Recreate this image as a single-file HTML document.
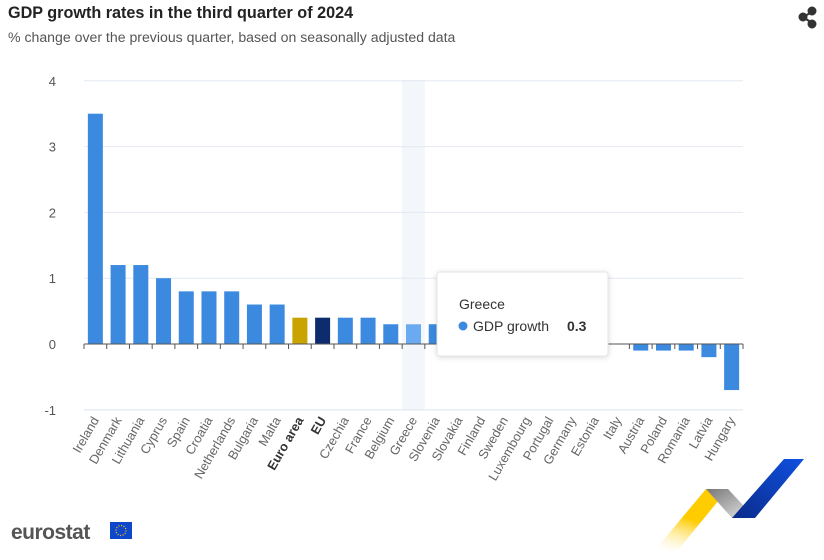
<!DOCTYPE html>
<html><head><meta charset="utf-8"><style>
body{margin:0;background:#fff;font-family:"Liberation Sans",sans-serif;}
#wrap{position:relative;width:824px;height:560px;overflow:hidden;}
</style></head><body>
<div id="wrap">
<svg id="chart" width="824" height="560">
<defs>
<linearGradient id="gy" x1="0" y1="1" x2="0.4" y2="0"><stop offset="0" stop-color="#fff" stop-opacity="0.2"/><stop offset="0.6" stop-color="#ffcc00"/></linearGradient>
<linearGradient id="gg" x1="0" y1="0" x2="1" y2="1"><stop offset="0" stop-color="#777"/><stop offset="1" stop-color="#e8e8e8"/></linearGradient>
<linearGradient id="gb" x1="0" y1="1" x2="1" y2="0"><stop offset="0" stop-color="#0a2c8a"/><stop offset="1" stop-color="#1050e0"/></linearGradient>
</defs>
<text x="8" y="18" font-size="16.2" font-weight="bold" fill="#222">GDP growth rates in the third quarter of 2024</text>
<text x="8" y="42" font-size="14.1" fill="#555">% change over the previous quarter, based on seasonally adjusted data</text>
<g fill="#333" stroke="#333" stroke-width="2">
<line x1="803" y1="17" x2="812" y2="12"/><line x1="803" y1="17" x2="812" y2="23"/>
<circle cx="803" cy="17" r="3.5"/><circle cx="812" cy="11" r="3.5"/><circle cx="812" cy="24" r="3.5"/>
</g>
<g id="grid"></g><g id="bars"></g><g id="xlabels"></g>
<g>
<rect x="437" y="272" width="171" height="84" rx="3" fill="#fff" stroke="#e6e6e6" filter="drop-shadow(0 1px 3px rgba(0,0,0,0.15))"/>
<text x="459" y="309" font-size="14" fill="#333">Greece</text>
<circle cx="463" cy="326" r="4.5" fill="#3b8ae0"/>
<text x="473" y="331" font-size="14" fill="#333">GDP growth</text>
<text x="567" y="331" font-size="14" font-weight="bold" fill="#333">0.3</text>
</g>
<g>
<text x="11" y="539" font-size="21" font-weight="bold" fill="#555" letter-spacing="-0.5">eurostat</text>
<rect x="110" y="522" width="22" height="17" fill="#0e47cb"/>
<circle cx="121" cy="530.5" r="5" fill="none" stroke="#ffcc00" stroke-width="1.3" stroke-dasharray="1 1.6"/>
</g>
<g>
<polygon points="655,550 706,489 728,489 678,550" fill="url(#gy)"/>
<polygon points="706,489 728,489 755,518 732,518" fill="url(#gg)"/>
<polygon points="732,518 784,459 804,459 755,518" fill="url(#gb)"/>
</g>
</svg>
</div>
<script>
const categories=["Ireland","Denmark","Lithuania","Cyprus","Spain","Croatia","Netherlands","Bulgaria","Malta","Euro area","EU","Czechia","France","Belgium","Greece","Slovenia","Slovakia","Finland","Sweden","Luxembourg","Portugal","Germany","Estonia","Italy","Austria","Poland","Romania","Latvia","Hungary"];
const values=[3.5,1.2,1.2,1.0,0.8,0.8,0.8,0.6,0.6,0.4,0.4,0.4,0.4,0.3,0.3,0.3,0.3,0.3,0.3,0.2,0.2,0.2,0.1,0.0,-0.1,-0.1,-0.1,-0.2,-0.7];
const yTicks=[4,3,2,1,0,-1];
const NS="http://www.w3.org/2000/svg";
const x0=84,x1=743,bw=(x1-x0)/categories.length;
const y=v=>344-v*65.8;
const xc=i=>x0+bw*(i+0.5);
function mk(t,a,p){const e=document.createElementNS(NS,t);for(const k in a)e.setAttribute(k,a[k]);p.appendChild(e);return e;}
const grid=document.getElementById('grid'),bars=document.getElementById('bars'),xl=document.getElementById('xlabels');
const hi=mk('rect',{x:x0+bw*14,y:80,width:bw,height:330,fill:'#f3f6fb'},grid);


yTicks.forEach(t=>{
 if(t!==0){const l=mk('line',{x1:x0,x2:x1,y1:y(t),y2:y(t),stroke:'#e3e8f2'},grid);
 
 }
 const tx=mk('text',{x:56,y:y(t)+5,'font-size':13,fill:'#555','text-anchor':'end'},grid);tx.textContent=t;
 
 
});
categories.forEach((c,i)=>{
 const v=values[i];
 let col='#3b8ae0';if(c==='Euro area')col='#c9a400';if(c==='EU')col='#0c2c6e';if(c==='Greece')col='#6aaaf0';
 const b=mk('rect',{x:xc(i)-7.5,y:Math.min(y(v),y(0)),width:15,height:Math.abs(y(v)-y(0)),fill:col},bars);
 
 
 const bold=(c==='Euro area'||c==='EU');
 const tx=mk('text',{x:xc(i)+4,y:420,'font-size':12.8,fill:bold?'#333':'#666','font-weight':bold?'bold':'normal','text-anchor':'end',transform:`rotate(-60 ${xc(i)+4} 420)`},xl);
 tx.textContent=c;
 
 
});
const zl=mk('line',{x1:x0,x2:x1,y1:y(0),y2:y(0),stroke:'#555'},bars);


for(let i=0;i<=categories.length;i++){mk('line',{x1:x0+bw*i,x2:x0+bw*i,y1:y(0),y2:y(0)+5,stroke:'#555'},bars);}
const bl=mk('line',{x1:x0,x2:x1,y1:410,y2:410,stroke:'#e3e8f2'},grid);


</script>
</body></html>
